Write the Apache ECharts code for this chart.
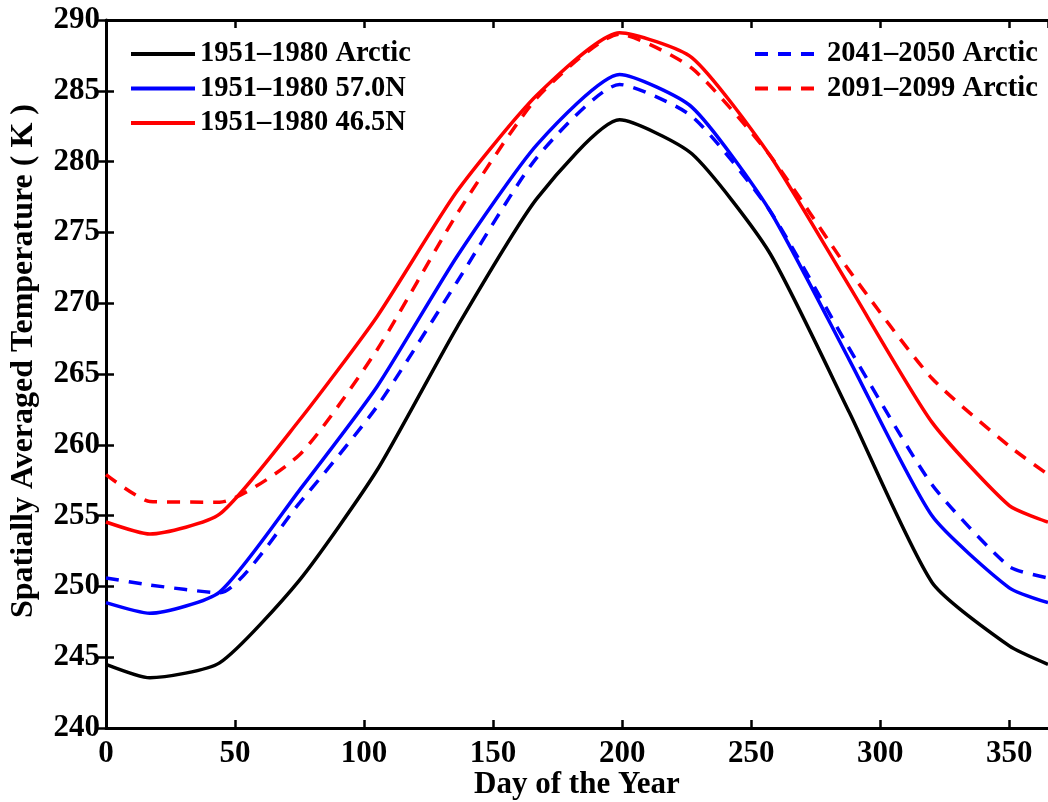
<!DOCTYPE html>
<html>
<head>
<meta charset="utf-8">
<title>Spatially averaged temperature</title>
<script src="https://cdn.jsdelivr.net/npm/echarts@6/dist/echarts.min.js"></script>
<style>
  html, body { margin: 0; padding: 0; background: #ffffff; }
  #chart { width: 1048px; height: 802px; }
</style>
</head>
<body>
<div id="chart"></div>
<script>
// day of year nodes (same for every curve)
const days = [0, 17, 44, 75, 105, 136, 167, 199, 227, 257, 288, 320, 350, 365];

// temperatures (K)
const arctic5180 = [244.5, 243.55, 244.6, 250.45, 258.2, 268.3, 277.4, 282.95, 280.55, 273.6, 262.3, 250.3, 245.8, 244.5];
const n570_5180 = [248.85, 248.1, 249.6, 256.8, 264.1, 273.3, 281.2, 286.15, 283.85, 276.6, 266.0, 255.0, 249.9, 248.85];
const n465_5180 = [254.55, 253.7, 255.1, 261.75, 269.05, 277.9, 284.7, 289.1, 287.35, 280.5, 271.2, 261.6, 255.7, 254.55];
const arctic4150 = [250.6, 250.1, 249.55, 255.9, 262.7, 271.5, 280.3, 285.45, 283.2, 276.6, 266.8, 257.2, 251.4, 250.6];
const arctic9199 = [257.9, 256.0, 255.95, 259.3, 266.7, 276.3, 284.5, 289.0, 286.6, 280.5, 272.3, 264.7, 259.9, 257.9];

const xTicks = [0, 365, 50];   // min, max, step
const yTicks = [240, 290, 5];

const FONT = "'Liberation Serif', 'Times New Roman', serif";

const pairs = vals => days.map((d, i) => [d, vals[i]]);

const mkLine = (name, vals, color, dashed) => ({
  name: name,
  type: "line",
  data: pairs(vals),
  symbol: "none",
  smooth: 0.2,
  lineStyle: { color: color, width: 3.5, type: dashed ? [13, 10] : "solid" },
  itemStyle: { color: color },
});

const chart = echarts.init(document.getElementById("chart"));

const axisLine = { show: true, lineStyle: { color: "#000", width: 3 } };
const tickIn = { show: true, inside: true, length: 8, lineStyle: { color: "#000", width: 2.5 } };
const legendText = { fontFamily: FONT, fontWeight: "bold", fontSize: 28.5, color: "#000", lineHeight: 34 };

const option = {
  animation: false,
  backgroundColor: "#ffffff",
  textStyle: { fontFamily: FONT },
  grid: { left: 106, right: 0, top: 20, bottom: 74, outerBoundsMode: "none", containLabel: false },
  legend: [
    {
      data: ["1951\u20131980 Arctic", "1951\u20131980 57.0N", "1951\u20131980 46.5N"],
      orient: "vertical",
      left: 124,
      top: 32,
      itemWidth: 64,
      itemHeight: 14,
      itemGap: 0.5,
      itemStyle: { opacity: 0 },
      lineStyle: { width: 4 },
      textStyle: legendText,
    },
    {
      data: ["2041\u20132050 Arctic", "2091\u20132099 Arctic"],
      orient: "vertical",
      left: 748,
      top: 32,
      itemWidth: 62,
      itemHeight: 14,
      itemGap: 0.5,
      itemStyle: { opacity: 0 },
      lineStyle: { width: 4 },
      textStyle: Object.assign({}, legendText, { padding: [0, 0, 0, 5] }),
    },
  ],
  xAxis: [
    {
      type: "value",
      min: xTicks[0],
      max: xTicks[1],
      interval: xTicks[2],
      name: "Day of the Year",
      nameLocation: "middle",
      nameGap: 41,
      nameMoveOverlap: false,
      nameTextStyle: { fontFamily: FONT, fontWeight: "bold", fontSize: 31, color: "#000" },
      axisLine: axisLine,
      axisTick: tickIn,
      splitLine: { show: false },
      axisLabel: { fontFamily: FONT, fontWeight: "bold", fontSize: 31, color: "#000", margin: 10, showMaxLabel: false },
    },
    {
      type: "value",
      position: "top",
      min: xTicks[0],
      max: xTicks[1],
      interval: xTicks[2],
      axisLine: axisLine,
      axisTick: tickIn,
      splitLine: { show: false },
      axisLabel: { show: false },
    },
  ],
  yAxis: [
    {
      type: "value",
      min: yTicks[0],
      max: yTicks[1],
      interval: yTicks[2],
      name: "Spatially Averaged Temperature ( K )",
      nameLocation: "middle",
      nameGap: 66,
      nameTextStyle: { fontFamily: FONT, fontWeight: "bold", fontSize: 32, color: "#000", padding: [0, 0, 0, 26] },
      axisLine: axisLine,
      axisTick: tickIn,
      splitLine: { show: false },
      axisLabel: { fontFamily: FONT, fontWeight: "bold", fontSize: 31, color: "#000", margin: 6 },
    },
    {
      type: "value",
      position: "right",
      min: yTicks[0],
      max: yTicks[1],
      interval: yTicks[2],
      axisLine: { show: false },
      axisTick: tickIn,
      splitLine: { show: false },
      axisLabel: { show: false },
    },
  ],
  series: [
    mkLine("1951\u20131980 Arctic", arctic5180, "#000000", false),
    mkLine("1951\u20131980 57.0N", n570_5180, "#0000ff", false),
    mkLine("1951\u20131980 46.5N", n465_5180, "#ff0000", false),
    mkLine("2041\u20132050 Arctic", arctic4150, "#0000ff", true),
    mkLine("2091\u20132099 Arctic", arctic9199, "#ff0000", true),
  ],
};

chart.setOption(option);
window.addEventListener("resize", function () {
  chart.resize();
});
</script>
</body>
</html>
